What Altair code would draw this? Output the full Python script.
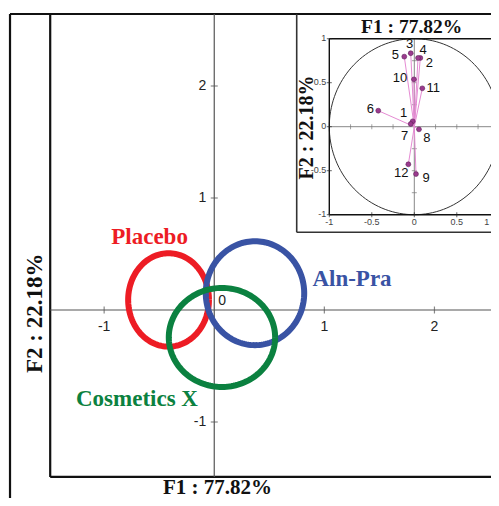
import numpy as np
import pandas as pd
import altair as alt

# ---------------- data ----------------
groups = ["Placebo", "Aln-Pra", "Cosmetics X"]
group_f1 = [-0.415, 0.370, 0.070]      # ellipse centres (F1)
group_f2 = [0.090, 0.150, -0.245]      # ellipse centres (F2)
group_r1 = [0.367, 0.447, 0.483]       # ellipse half-width  (F1 units)
group_r2 = [0.417, 0.464, 0.442]       # ellipse half-height (F2 units)

var_names = [str(i) for i in range(1, 13)]
var_f1 = [-0.019, 0.071, -0.042, 0.044, -0.118, -0.424, -0.042, 0.055, 0.020, -0.004, 0.094, -0.070]
var_f2 = [0.061, 0.781, 0.835, 0.781, 0.796, 0.182, 0.031, -0.030, -0.538, 0.538, 0.436, -0.427]

main_ticks_x = [-1, 1, 2]
main_ticks_y = [2, 1, -1]
inset_ticks = [-1, -0.5, 0, 0.5, 1]
inset_minor = [-0.75, -0.5, -0.25, 0.25, 0.5, 0.75]

x_title = "F1 : 77.82%"
y_title = "F2 : 22.18%"

# ---------------- style / layout ----------------
group_colors = ["#ED1C24", "#3953A4", "#0B8140"]
group_label_dx = [-19, 97, -85]
group_label_dy = [-56, -7, 69]
var_label_dx = [-9, 9, -1, 5, -9, -8, -6, 8, 10, -14, 11, -7]
var_label_dy = [-8, 5, -9, -8, -2, -2, 12, 9, 4, -1, 0, 9]

W, H = 483, 490
SERIF = "Liberation Serif"
SANS = "Liberation Sans"

# main plot frame (F1/F2 units)
BOX_LO = -1.49
BOX_TOP = 2.643
OUTER_LEFT = -1.855
# inset frame (loading units)
INSET_LEFT = -1.3835
INSET_BOTTOM = -1.2
INSET_TOP = 1.28


def sc(lo, hi):
    return alt.Scale(domain=[lo, hi], nice=False, zero=False)


MX_LO, MX_HI = (0 - 206.25) / 110.1, (W - 206.25) / 110.1
MY_LO, MY_HI = (302 - H) / 112, 302 / 112
IX_LO, IX_HI = -406.3 / 85, (W - 406.3) / 85
IY_LO, IY_HI = (118.7 - H) / 88, 118.7 / 88
MX = sc(MX_LO, MX_HI)
MY = sc(MY_LO, MY_HI)
IX = sc(IX_LO, IX_HI)
IY = sc(IY_LO, IY_HI)


def mx(f):
    return alt.X(f, type="quantitative", scale=MX, axis=None)


def my(f):
    return alt.Y(f, type="quantitative", scale=MY, axis=None)


def ix(f):
    return alt.X(f, type="quantitative", scale=IX, axis=None)


def iy(f):
    return alt.Y(f, type="quantitative", scale=IY, axis=None)


color_enc = alt.Color("group:N", scale=alt.Scale(domain=groups, range=group_colors), legend=None)

# ---------------- main chart ----------------
theta = np.linspace(0, 2 * np.pi, 145)
ell_rows = []
for g, cx, cy, rx, ry in zip(groups, group_f1, group_f2, group_r1, group_r2):
    for k, a in enumerate(theta):
        ell_rows.append({"group": g, "k": k, "x": cx + rx * np.cos(a), "y": cy + ry * np.sin(a)})
ell_df = pd.DataFrame(ell_rows)

ellipses = alt.Chart(ell_df).mark_line(strokeWidth=6, strokeCap="butt").encode(
    x=mx("x"), y=my("y"), color=color_enc, detail="group:N", order="k:Q"
)

glab_df = pd.DataFrame({"group": groups, "x": group_f1, "y": group_f2,
                        "dx": group_label_dx, "dy": group_label_dy})
group_labels = alt.Chart(glab_df).mark_text(
    font=SERIF, fontWeight="bold", fontSize=23, align="center", baseline="alphabetic",
    dx=alt.expr("datum.dx"), dy=alt.expr("datum.dy")
).encode(x=mx("x"), y=my("y"), text="group:N", color=color_enc)

main_rules_df = pd.DataFrame([
    {"x": 0, "x2": 0, "y": BOX_LO, "y2": BOX_TOP},
    {"x": BOX_LO, "x2": MX_HI, "y": 0, "y2": 0},
])
main_axes = alt.Chart(main_rules_df).mark_rule(color="#555555", strokeWidth=1.2).encode(
    x=mx("x"), x2="x2", y=my("y"), y2="y2")

frame_df = pd.DataFrame([
    {"x": OUTER_LEFT, "x2": OUTER_LEFT, "y": MY_LO, "y2": BOX_TOP},
    {"x": OUTER_LEFT, "x2": MX_HI, "y": BOX_TOP, "y2": BOX_TOP},
    {"x": BOX_LO, "x2": BOX_LO, "y": BOX_LO, "y2": BOX_TOP},
    {"x": BOX_LO, "x2": MX_HI, "y": BOX_LO, "y2": BOX_LO},
])
frames = alt.Chart(frame_df).mark_rule(color="#111111", strokeWidth=2.2).encode(
    x=mx("x"), x2="x2", y=my("y"), y2="y2")

xt_df = pd.DataFrame({"x": main_ticks_x, "y": [0] * len(main_ticks_x),
                      "t": [str(v) for v in main_ticks_x]})
yt_df = pd.DataFrame({"x": [0] * len(main_ticks_y), "y": main_ticks_y,
                      "t": [str(v) for v in main_ticks_y]})
xticks = alt.Chart(xt_df).mark_tick(orient="vertical", size=7, thickness=1.2, color="#555555").encode(
    x=mx("x"), y=my("y"))
yticks = alt.Chart(yt_df).mark_tick(orient="horizontal", size=7, thickness=1.2, color="#555555").encode(
    x=mx("x"), y=my("y"))
xtick_lab = alt.Chart(xt_df).mark_text(font=SANS, fontSize=14, color="#222222", align="center",
                                       baseline="middle", dy=17).encode(x=mx("x"), y=my("y"), text="t:N")
ytick_lab = alt.Chart(yt_df).mark_text(font=SANS, fontSize=14, color="#222222", align="right",
                                       baseline="middle", dx=-8).encode(x=mx("x"), y=my("y"), text="t:N")
zero_df = pd.DataFrame({"x": [0], "y": [0], "t": ["0"]})
zero_lab = alt.Chart(zero_df).mark_text(font=SANS, fontSize=14, color="#222222", align="left",
                                        baseline="middle", dx=4, dy=-9).encode(x=mx("x"), y=my("y"), text="t:N")

# bottom title: kept fully inside the (cropped) canvas, below the frame line
main_xtitle = alt.Chart(pd.DataFrame({"t": [x_title]})).mark_text(
    font=SERIF, fontWeight="bold", fontSize=21, align="center", baseline="bottom", color="#111111"
).encode(x=alt.value(209.5), y=alt.value(H), text="t:N")
main_ytitle = alt.Chart(pd.DataFrame({"t": [y_title]})).mark_text(
    font=SERIF, fontWeight="bold", fontSize=23, align="center", baseline="alphabetic", angle=270, color="#111111"
).encode(x=alt.value(33.7), y=alt.value(305.3), text="t:N")

main = alt.layer(frames, main_axes, xticks, yticks, xtick_lab, ytick_lab, zero_lab,
                 ellipses, group_labels, main_xtitle, main_ytitle)

# ---------------- inset: correlation circle ----------------
circ_df = pd.DataFrame({"k": np.arange(len(theta)), "x": np.cos(theta), "y": np.sin(theta)})
circle = alt.Chart(circ_df).mark_line(color="#333333", strokeWidth=1).encode(
    x=ix("x"), y=iy("y"), order="k:Q")

in_axes_df = pd.DataFrame([
    {"x": 0, "x2": 0, "y": -1, "y2": 1},
    {"x": -1, "x2": 1, "y": 0, "y2": 0},
])
in_axes = alt.Chart(in_axes_df).mark_rule(color="#888888", strokeWidth=1).encode(
    x=ix("x"), x2="x2", y=iy("y"), y2="y2")

in_box_df = pd.DataFrame([
    {"x": -1, "x2": -1, "y": -1, "y2": 1},
    {"x": -1, "x2": 1, "y": 1, "y2": 1},
    {"x": -1, "x2": 1, "y": -1, "y2": -1},
    {"x": 1, "x2": 1, "y": -1, "y2": 1},
])
in_box = alt.Chart(in_box_df).mark_rule(color="#111111", strokeWidth=1.4).encode(
    x=ix("x"), x2="x2", y=iy("y"), y2="y2")

in_outer_df = pd.DataFrame([
    {"x": INSET_LEFT, "x2": INSET_LEFT, "y": INSET_BOTTOM, "y2": INSET_TOP},
    {"x": INSET_LEFT, "x2": IX_HI, "y": INSET_BOTTOM, "y2": INSET_BOTTOM},
])
in_outer = alt.Chart(in_outer_df).mark_rule(color="#333333", strokeWidth=1.6).encode(
    x=ix("x"), x2="x2", y=iy("y"), y2="y2")

minor_x_df = pd.DataFrame({"x": inset_minor, "y": [0] * len(inset_minor)})
minor_y_df = pd.DataFrame({"x": [0] * len(inset_minor), "y": inset_minor})
in_minor_x = alt.Chart(minor_x_df).mark_tick(orient="vertical", size=5, thickness=1, color="#777777").encode(
    x=ix("x"), y=iy("y"))
in_minor_y = alt.Chart(minor_y_df).mark_tick(orient="horizontal", size=5, thickness=1, color="#777777").encode(
    x=ix("x"), y=iy("y"))


def fmt(v):
    return "0" if v == 0 else ("%g" % v)


bt_df = pd.DataFrame({"x": inset_ticks, "y": [-1] * len(inset_ticks), "t": [fmt(v) for v in inset_ticks]})
lt_df = pd.DataFrame({"x": [-1] * len(inset_ticks), "y": inset_ticks, "t": [fmt(v) for v in inset_ticks]})
in_bticks = alt.Chart(bt_df).mark_tick(orient="vertical", size=5, thickness=1, color="#222222").encode(
    x=ix("x"), y=iy("y"))
in_lticks = alt.Chart(lt_df).mark_tick(orient="horizontal", size=5, thickness=1, color="#222222").encode(
    x=ix("x"), y=iy("y"))
# the last bottom label sits at the cropped right edge: keep it inside the canvas
in_blab = alt.Chart(bt_df).mark_text(
    font=SANS, fontSize=9, color="#444444", baseline="middle", dy=7,
    align=alt.expr("datum.x >= 1 ? 'right' : 'center'"),
    dx=alt.expr("datum.x >= 1 ? -10 : 0"),
).encode(x=ix("x"), y=iy("y"), text="t:N")
in_llab = alt.Chart(lt_df).mark_text(font=SANS, fontSize=9, color="#444444", align="right",
                                     baseline="middle", dx=-3, dy=-1).encode(x=ix("x"), y=iy("y"), text="t:N")

var_df = pd.DataFrame({"name": var_names, "f1": var_f1, "f2": var_f2,
                       "o": [0.0] * len(var_names), "dx": var_label_dx, "dy": var_label_dy})
vectors = alt.Chart(var_df).mark_rule(color="#E58BD3", strokeWidth=1).encode(
    x=ix("o"), y=iy("o"), x2="f1", y2="f2")
dots = alt.Chart(var_df).mark_point(filled=True, shape="circle", size=24, color="#9B3A8E",
                                    stroke="#5E1F57", strokeWidth=0.6, opacity=1).encode(
    x=ix("f1"), y=iy("f2"))
var_labels = alt.Chart(var_df).mark_text(
    font=SANS, fontSize=13, color="#111111", align="center", baseline="middle",
    dx=alt.expr("datum.dx"), dy=alt.expr("datum.dy")
).encode(x=ix("f1"), y=iy("f2"), text="name:N")

in_xtitle = alt.Chart(pd.DataFrame({"t": [x_title]})).mark_text(
    font=SERIF, fontWeight="bold", fontSize=19.5, align="center", baseline="alphabetic", color="#111111"
).encode(x=alt.value(403.7), y=alt.value(25.3), text="t:N")
in_ytitle = alt.Chart(pd.DataFrame({"t": [y_title]})).mark_text(
    font=SERIF, fontWeight="bold", fontSize=20, align="center", baseline="alphabetic", angle=270, color="#111111"
).encode(x=alt.value(305.3), y=alt.value(119.5), text="t:N")

inset = alt.layer(in_outer, circle, in_axes, in_minor_x, in_minor_y, in_box, in_bticks, in_lticks,
                  in_blab, in_llab, vectors, dots, var_labels, in_xtitle, in_ytitle)

chart = alt.layer(main, inset).resolve_scale(
    x="independent", y="independent"
).properties(
    width=W, height=H, padding=0, autosize=alt.AutoSizeParams(type="none")
).configure_view(stroke=None)

chart.save("out.html", embed_options={"renderer": "svg", "actions": False})
